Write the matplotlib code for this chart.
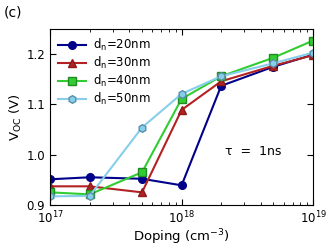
import numpy as np
import matplotlib
matplotlib.use("Agg")
import matplotlib.pyplot as plt

# doping levels (cm^-3)
doping = [1e17, 2e17, 5e17, 1e18, 2e18, 5e18, 1e19]

# Voc (V) for each layer thickness
voc_20 = [0.951, 0.955, 0.952, 0.939, 1.137, 1.175, 1.199]
voc_30 = [0.937, 0.937, 0.925, 1.089, 1.146, 1.177, 1.198]
voc_40 = [0.925, 0.921, 0.965, 1.111, 1.156, 1.193, 1.227]
voc_50 = [0.917, 0.918, 1.054, 1.121, 1.156, 1.182, 1.203]

labels = ["d$_\\mathregular{n}$=20nm", "d$_\\mathregular{n}$=30nm",
          "d$_\\mathregular{n}$=40nm", "d$_\\mathregular{n}$=50nm"]

fig = plt.figure(figsize=(3.32, 2.46), dpi=100)
ax = fig.add_axes([0.151, 0.167, 0.792, 0.715])

ax.plot(doping, voc_20, '-o', color='#00008b', mec='#00008b', ms=5.5, lw=1.5, label=labels[0])
ax.plot(doping, voc_30, '-^', color='#b22222', mec='#8b1a1a', ms=5.5, lw=1.5, label=labels[1])
ax.plot(doping, voc_40, '-s', color='#32cd32', mec='#228b22', ms=5.5, lw=1.5, label=labels[2])
ax.plot(doping, voc_50, '-h', color='#87ceeb', mec='#5a8fa8', ms=5.5, lw=1.5, label=labels[3])

ax.set_xscale('log')
ax.set_xlim(1e17, 1e19)
ax.set_ylim(0.9, 1.25)
ax.set_yticks([0.9, 1.0, 1.1, 1.2])
ax.set_yticklabels(['0.9', '1.00', '1.10', '1.20'])
ax.set_yticklabels(['0.9', '1.0', '1.1', '1.2'])
ax.tick_params(which='both', direction='in', top=True, right=True, labelsize=8.5)
ax.tick_params(which='major', length=4)
ax.tick_params(which='minor', length=2)
ax.set_xlabel("Doping (cm$^{-3}$)", fontsize=9.5, labelpad=1)
ax.set_ylabel("V$_\\mathregular{OC}$ (V)", fontsize=9.5, labelpad=2)

ax.text(3.5e18, 1.006, "τ  =  1ns", fontsize=9, ha='center', va='center')
fig.text(0.012, 0.95, "(c)", fontsize=10, ha='left', va='center')

ax.legend(loc='upper left', fontsize=8.5, frameon=False, handlelength=2.3,
          handletextpad=0.6, labelspacing=0.15, borderaxespad=0.3)

fig.savefig("out.png", dpi=100)
